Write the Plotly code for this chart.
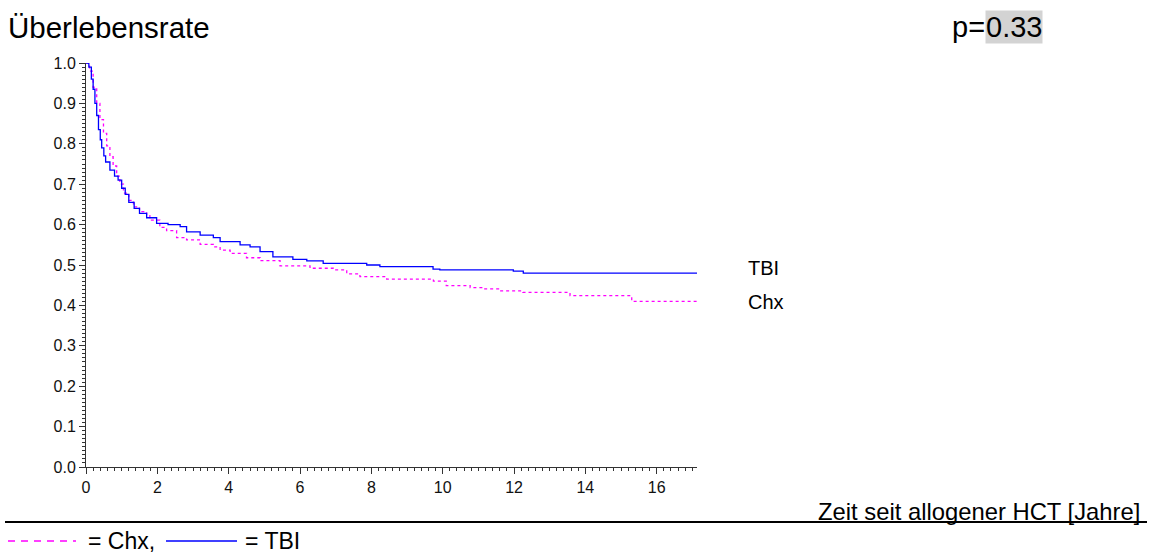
import plotly.graph_objects as go

# Kaplan-Meier estimates (years since allogeneic HCT, survival probability)
tbi_time = [0, 0.08, 0.15, 0.2, 0.25, 0.3, 0.35, 0.4, 0.44, 0.5, 0.55, 0.67, 0.8, 0.9,
            1.0, 1.1, 1.2, 1.35, 1.5, 1.7, 1.98, 2.3, 2.64, 2.82, 3.2, 3.57, 3.76, 4.32,
            4.6, 4.88, 5.24, 5.8, 6.19, 6.65, 7.87, 8.24, 9.73, 9.92, 11.98, 12.26, 17.13]
tbi_surv = [1.0, 0.99, 0.96, 0.935, 0.9, 0.87, 0.835, 0.81, 0.79, 0.77, 0.755, 0.735, 0.72, 0.71,
            0.69, 0.675, 0.655, 0.64, 0.628, 0.617, 0.603, 0.6, 0.595, 0.582, 0.574, 0.568, 0.558, 0.55,
            0.545, 0.533, 0.52, 0.514, 0.51, 0.504, 0.5, 0.496, 0.49, 0.488, 0.485, 0.48, 0.48]

chx_time = [0, 0.1, 0.2, 0.3, 0.39, 0.49, 0.58, 0.67, 0.76, 0.86, 0.95, 1.05, 1.2, 1.33,
            1.5, 1.7, 1.79, 2.07, 2.26, 2.54, 2.82, 3.2, 3.57, 3.76, 4.04, 4.5, 4.88, 5.44,
            6.28, 6.93, 7.31, 7.68, 8.43, 9.74, 10.1, 10.77, 11.13, 11.6, 12.25, 13.57, 15.3, 17.13]
chx_surv = [1.0, 0.98, 0.94, 0.9, 0.86, 0.826, 0.795, 0.768, 0.745, 0.72, 0.7, 0.678, 0.66, 0.644,
            0.632, 0.622, 0.611, 0.593, 0.585, 0.568, 0.562, 0.551, 0.545, 0.537, 0.529, 0.518, 0.511, 0.498,
            0.492, 0.488, 0.478, 0.471, 0.465, 0.46, 0.449, 0.444, 0.441, 0.436, 0.432, 0.424, 0.41, 0.41]

x_ticks = [0, 2, 4, 6, 8, 10, 12, 14, 16]
y_ticks = [0.0, 0.1, 0.2, 0.3, 0.4, 0.5, 0.6, 0.7, 0.8, 0.9, 1.0]
y_labels = [f"{v:.1f}" for v in y_ticks]

W, H = 1152, 554
FONT = "Liberation Sans, Arial, sans-serif"


def px(x):
    return x / W


def py(y):
    return 1 - y / H


fig = go.Figure()
fig.add_trace(go.Scatter(x=chx_time, y=chx_surv, mode="lines", line_shape="hv",
                         line=dict(color="#ff00ff", width=1.3, dash="3px,3px"),
                         showlegend=False, hoverinfo="skip"))
fig.add_trace(go.Scatter(x=tbi_time, y=tbi_surv, mode="lines", line_shape="hv",
                         line=dict(color="#0000ff", width=1.3),
                         showlegend=False, hoverinfo="skip"))

axis_common = dict(showgrid=False, zeroline=False, showline=True, linecolor="#333333",
                   linewidth=1, ticks="outside", tickcolor="#333333", ticklen=6,
                   automargin=False,
                   tickfont=dict(family=FONT, size=16, color="#111111"))

fig.update_xaxes(domain=[px(86), px(697)], range=[0, 17.13], tickvals=x_ticks,
                 minor=dict(dtick=0.2, ticks="outside", ticklen=3, tickcolor="#333333"),
                 **axis_common)
fig.update_yaxes(domain=[py(467), py(63)], range=[0, 1.0], tickvals=y_ticks, ticktext=y_labels,
                 minor=dict(dtick=0.01, ticks="outside", ticklen=3, tickcolor="#333333"),
                 **axis_common)

ann = []
ann.append(dict(text="Überlebensrate", x=px(6), y=py(27), xref="paper", yref="paper",
                xanchor="left", yanchor="middle", showarrow=False,
                font=dict(family=FONT, size=29.5, color="#000000")))
ann.append(dict(text="p=", x=px(987), y=py(27), xref="paper", yref="paper",
                xanchor="right", yanchor="middle", showarrow=False,
                font=dict(family=FONT, size=29, color="#000000")))
ann.append(dict(text="0.33", x=px(985), y=py(27), xref="paper", yref="paper",
                xanchor="left", yanchor="middle", showarrow=False, bgcolor="#d3d3d3",
                borderpad=0, font=dict(family=FONT, size=29, color="#000000")))
ann.append(dict(text="TBI", x=px(746), y=py(268), xref="paper", yref="paper",
                xanchor="left", yanchor="middle", showarrow=False,
                font=dict(family=FONT, size=20, color="#000000")))
ann.append(dict(text="Chx", x=px(746), y=py(302), xref="paper", yref="paper",
                xanchor="left", yanchor="middle", showarrow=False,
                font=dict(family=FONT, size=20, color="#000000")))
ann.append(dict(text="Zeit seit allogener HCT [Jahre]", x=px(1142), y=py(511), xref="paper",
                yref="paper", xanchor="right", yanchor="middle", showarrow=False,
                font=dict(family=FONT, size=23.8, color="#000000")))
ann.append(dict(text="= Chx,", x=px(86), y=py(541), xref="paper", yref="paper",
                xanchor="left", yanchor="middle", showarrow=False,
                font=dict(family=FONT, size=23, color="#000000")))
ann.append(dict(text="= TBI", x=px(243), y=py(541), xref="paper", yref="paper",
                xanchor="left", yanchor="middle", showarrow=False,
                font=dict(family=FONT, size=23, color="#000000")))

shapes = [
    dict(type="line", xref="paper", yref="paper", x0=px(5), x1=px(1147), y0=py(522), y1=py(522),
         line=dict(color="#000000", width=2)),
    dict(type="line", xref="paper", yref="paper", x0=px(8), x1=px(76), y0=py(541), y1=py(541),
         line=dict(color="#ff00ff", width=1.5, dash="7px,6px")),
    dict(type="line", xref="paper", yref="paper", x0=px(166), x1=px(237), y0=py(541), y1=py(541),
         line=dict(color="#0000ff", width=1.5)),
]

fig.update_layout(width=W, height=H, margin=dict(l=0, r=0, t=0, b=0),
                  paper_bgcolor="#ffffff", plot_bgcolor="#ffffff",
                  annotations=ann, shapes=shapes)

# the figure fills the page exactly, so drop the browser's default body margin
fig.write_html("out.html",
               post_script="document.body.style.margin='0';document.body.style.overflow='hidden';")
